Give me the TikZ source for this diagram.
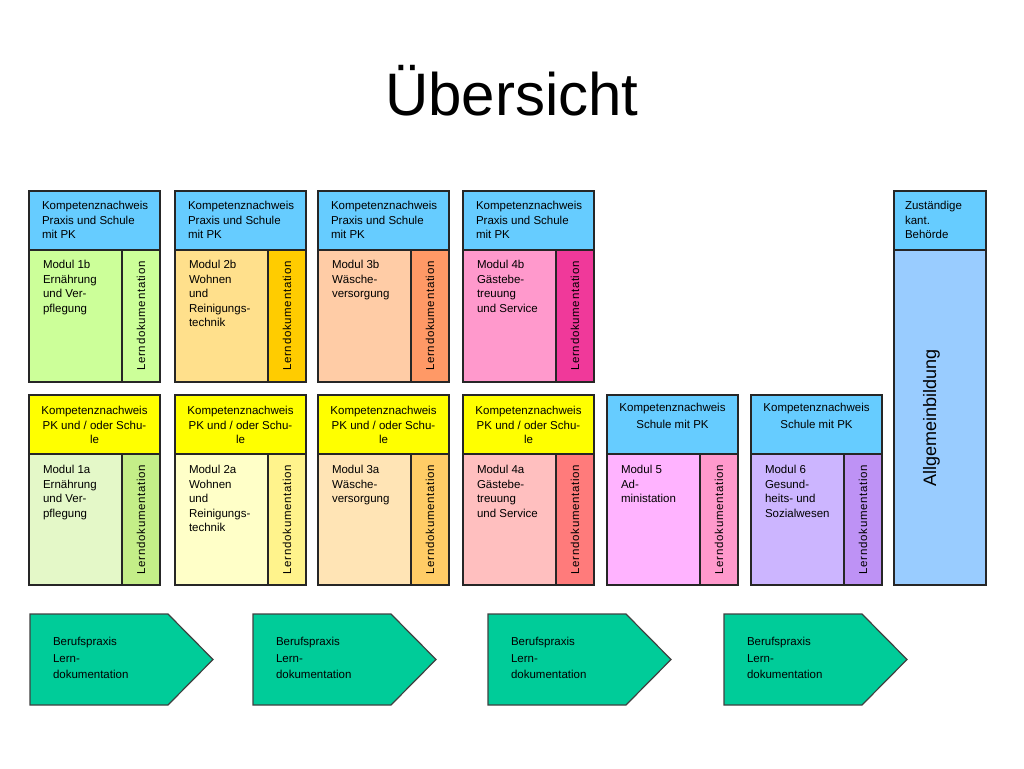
\documentclass[tikz,border=0pt]{standalone}
\usepackage{fontspec}
\setmainfont{Liberation Sans}
\usepackage{xcolor}
\usepackage{tikz}

\definecolor{hdrblue}{HTML}{66CCFF}
\definecolor{hdryellow}{HTML}{FFFF00}
\definecolor{allg}{HTML}{99CCFF}
\definecolor{praxis}{HTML}{00CC99}
\definecolor{m1b}{HTML}{CCFF99}\definecolor{l1b}{HTML}{CCFF99}
\definecolor{m2b}{HTML}{FFE08C}\definecolor{l2b}{HTML}{FFCC00}
\definecolor{m3b}{HTML}{FFCCA6}\definecolor{l3b}{HTML}{FF9966}
\definecolor{m4b}{HTML}{FF99CC}\definecolor{l4b}{HTML}{F0399A}
\definecolor{m1a}{HTML}{E4F8C8}\definecolor{l1a}{HTML}{C4EE88}
\definecolor{m2a}{HTML}{FFFFC8}\definecolor{l2a}{HTML}{FFF38C}
\definecolor{m3a}{HTML}{FFE4B5}\definecolor{l3a}{HTML}{FFCC66}
\definecolor{m4a}{HTML}{FFBFBF}\definecolor{l4a}{HTML}{FF7B7B}
\definecolor{m5}{HTML}{FFB3FF}\definecolor{l5}{HTML}{FF99CC}
\definecolor{m6}{HTML}{CCB5FF}\definecolor{l6}{HTML}{BE92F5}

\begin{document}
\begin{tikzpicture}[x=1pt, y=-1pt,
    every node/.style={inner sep=0pt, outer sep=0pt},
    box/.style={rectangle, draw=black!85, line width=1.2pt, anchor=north west},
    hdr/.style={box, fill=hdrblue, minimum width=131pt, minimum height=59pt},
    body/.style={box, minimum width=93pt, minimum height=132pt},
    ldoc/.style={box, minimum width=38pt, minimum height=132pt},
    txt/.style={anchor=north west, align=left, font=\fontsize{11.5}{14.4}\selectfont},
    ctxt/.style={anchor=north, align=center, font=\fontsize{11.5}{14.4}\selectfont},
    vtxt/.style={rotate=90, font=\fontsize{11.5}{14}\selectfont\addfontfeatures{LetterSpace=6}},
    arrowbox/.style={fill=praxis, draw=black!75, line width=1.2pt, line join=miter}]
            \useasboundingbox (0,0) rectangle (1024,768);
            \node[anchor=base, font=\fontsize{60}{60}\selectfont] (title) at (512,115) {Übersicht};
            \foreach \n/\x/\txt in {1b/29/{Modul 1b\\Ernährung\\und Ver-\\pflegung},
                2b/175/{Modul 2b\\Wohnen\\und\\Reinigungs-\\technik},
                3b/318/{Modul 3b\\Wäsche-\\versorgung},
                4b/463/{Modul 4b\\Gästebe-\\treuung\\und Service}}
            {
            \node[hdr] (k\n) at (\x,191) {};
            \node[txt] (kt\n) at (\x+13,201.5) {Kompetenznachweis\\Praxis und Schule\\mit PK};
            \node[body, fill=m\n] (b\n) at (\x,250) {};
            \node[ldoc, fill=l\n] (l\n) at (b\n.north east) {};
            \node[vtxt] (lt\n) at (l\n.center) {Lerndokumentation};
            \node[txt] (bt\n) at (\x+14,260.5) {\txt};
            }
            \foreach \n/\x/\txt in {1a/29/{Modul 1a\\Ernährung\\und Ver-\\pflegung},
                2a/175/{Modul 2a\\Wohnen\\und\\Reinigungs-\\technik},
                3a/318/{Modul 3a\\Wäsche-\\versorgung},
                4a/463/{Modul 4a\\Gästebe-\\treuung\\und Service},
                5/607/{Modul 5\\Ad-\\ministation},
                6/751/{Modul 6\\Gesund-\\heits- und\\Sozialwesen}}
            {
            \node[body, minimum height=131pt, fill=m\n] (b\n) at (\x,454) {};
            \node[ldoc, minimum height=131pt, fill=l\n] (l\n) at (b\n.north east) {};
            \node[vtxt] (lt\n) at (l\n.center) {Lerndokumentation};
            \node[txt] (bt\n) at (\x+14,465.5) {\txt};
            }
            \foreach \n/\x in {1a/29,2a/175,3a/318,4a/463}
            {
            \node[hdr, fill=hdryellow] (k\n) at (\x,395) {};
            \node[ctxt] (kt\n) at (\x+65.5,406.5) {Kompetenznachweis\\PK und / oder Schu-\\le};
            }
            \foreach \n/\x in {5/607,6/751}
            {
            \node[hdr] (k\n) at (\x,395) {};
            \node[ctxt, font=\fontsize{11.5}{16.7}\selectfont] (kt\n) at (\x+65.5,403.5) {Kompetenznachweis\\Schule mit PK};
            }
            \node[hdr, minimum width=92pt] (zk) at (894,191) {};
            \node[txt] (zkt) at (905,201.5) {Zuständige\\kant.\\Behörde};
            \node[box, fill=allg, minimum width=92pt, minimum height=335pt] (ab) at (894,250) {};
            \node[rotate=90, anchor=base, font=\fontsize{18}{18}\selectfont] (abt) at (936,417.5) {Allgemeinbildung};
            \foreach \x [count=\i] in {30,253,488,724}
            {
            \filldraw[arrowbox] (\x,614) -- ++(138,0) -- ++(45,45.5) -- ++(-45,45.5) -- ++(-138,0) -- cycle;
            \node[txt, font=\fontsize{11.5}{16.2}\selectfont] (bp\i) at (\x+23,637.5) {Berufspraxis\\Lern-\\dokumentation};
            }
        \end{tikzpicture}
\end{document}
